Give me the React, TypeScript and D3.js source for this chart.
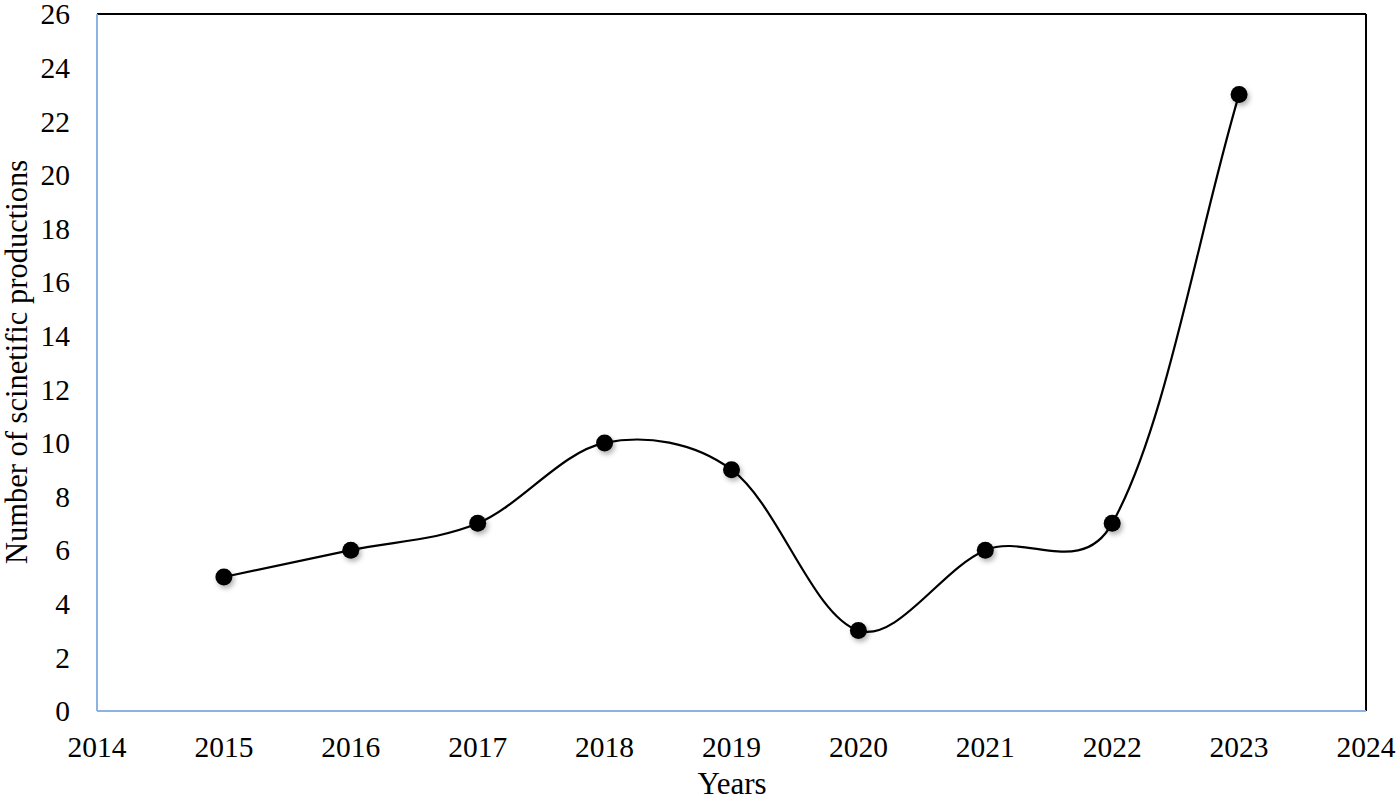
import React, { useEffect, useRef } from "react";
import * as d3 from "d3";

const years = [2015, 2016, 2017, 2018, 2019, 2020, 2021, 2022, 2023];
const counts = [5, 6, 7, 10, 9, 3, 6, 7, 23];
const xTicks = [2014, 2015, 2016, 2017, 2018, 2019, 2020, 2021, 2022, 2023, 2024];
const yTicks = [0, 2, 4, 6, 8, 10, 12, 14, 16, 18, 20, 22, 24, 26];

const W = 1400, H = 800;
const L = 97, R = 1366, T = 14, B = 711;
const FONT = "'Liberation Serif', 'Times New Roman', serif";

// Excel-like smoothing: blend of uniform Catmull-Rom tangents and length-weighted tangents
function smoothPath(pts: [number, number][]): string {
  const p = d3.path();
  const n = pts.length;
  const dist = (a: [number, number], b: [number, number]) => Math.hypot(b[0] - a[0], b[1] - a[1]);
  const cOut: [number, number][] = [];
  const cIn: [number, number][] = [];
  for (let i = 0; i < n; i++) {
    const prev = pts[Math.max(0, i - 1)];
    const next = pts[Math.min(n - 1, i + 1)];
    const tx = next[0] - prev[0], ty = next[1] - prev[1];
    const dp = i > 0 ? dist(pts[i - 1], pts[i]) : 0;
    const dn = i < n - 1 ? dist(pts[i], pts[i + 1]) : 0;
    const tot = dp + dn || 1;
    const inner = i > 0 && i < n - 1;
    const kin = inner ? 0.5 * (1 / 6) + 0.5 * (dp / tot / 3) : 1 / 3 * dp / tot;
    const kout = inner ? 0.5 * (1 / 6) + 0.5 * (dn / tot / 3) : 1 / 3 * dn / tot;
    cIn.push([pts[i][0] - tx * kin, pts[i][1] - ty * kin]);
    cOut.push([pts[i][0] + tx * kout, pts[i][1] + ty * kout]);
  }
  p.moveTo(pts[0][0], pts[0][1]);
  for (let i = 0; i < n - 1; i++) {
    p.bezierCurveTo(cOut[i][0], cOut[i][1], cIn[i + 1][0], cIn[i + 1][1], pts[i + 1][0], pts[i + 1][1]);
  }
  return p.toString();
}

export default function App() {
  const ref = useRef<SVGSVGElement>(null);
  useEffect(() => {
    const svg = d3.select(ref.current);
    svg.selectAll("*").remove();
    const x = d3.scaleLinear().domain([2014, 2024]).range([L, R]);
    const y = d3.scaleLinear().domain([0, 26]).range([B, T]);

    const defs = svg.append("defs");
    const f = defs.append("filter").attr("id", "shadow").attr("x", "-50%").attr("y", "-50%").attr("width", "200%").attr("height", "200%");
    f.append("feDropShadow").attr("dx", 2).attr("dy", 3).attr("stdDeviation", 2.5).attr("flood-color", "#000").attr("flood-opacity", 0.3);

    // frame
    svg.append("line").attr("x1", L).attr("x2", R).attr("y1", T).attr("y2", T).attr("stroke", "#000").attr("stroke-width", 2);
    svg.append("line").attr("x1", R).attr("x2", R).attr("y1", T).attr("y2", B).attr("stroke", "#000").attr("stroke-width", 2);
    svg.append("line").attr("x1", L).attr("x2", L).attr("y1", T).attr("y2", B).attr("stroke", "#8DB3E2").attr("stroke-width", 2);
    svg.append("line").attr("x1", L).attr("x2", R).attr("y1", B).attr("y2", B).attr("stroke", "#8DB3E2").attr("stroke-width", 2);

    // y ticks
    svg.append("g").selectAll("text").data(yTicks).join("text")
      .attr("x", 70).attr("y", d => y(d)).attr("dy", "0.35em")
      .attr("text-anchor", "end").attr("font-family", FONT).attr("font-size", 29.5).attr("fill", "#000")
      .text(d => String(d));

    // x ticks
    svg.append("g").selectAll("text").data(xTicks).join("text")
      .attr("x", d => x(d)).attr("y", 757)
      .attr("text-anchor", "middle").attr("font-family", FONT).attr("font-size", 29.5).attr("fill", "#000")
      .text(d => String(d));

    // axis titles
    svg.append("text").attr("x", 732).attr("y", 794).attr("text-anchor", "middle")
      .attr("font-family", FONT).attr("font-size", 31).attr("fill", "#000").text("Years");
    svg.append("text").attr("transform", `translate(27,362) rotate(-90)`).attr("text-anchor", "middle")
      .attr("font-family", FONT).attr("font-size", 30.5).attr("fill", "#000").text("Number of scinetific productions");

    const pts: [number, number][] = years.map((yr, i) => [x(yr), y(counts[i])]);
    svg.append("path").attr("d", smoothPath(pts)).attr("fill", "none").attr("stroke", "#000").attr("stroke-width", 2.2);

    svg.append("g").selectAll("circle").data(pts).join("circle")
      .attr("cx", d => d[0]).attr("cy", d => d[1]).attr("r", 8.5).attr("fill", "#000")
      .attr("filter", "url(#shadow)");
  }, []);
  return <svg ref={ref} width={W} height={H} style={{ display: "block", position: "absolute", left: 0, top: 0, background: "#fff" }} />;
}
